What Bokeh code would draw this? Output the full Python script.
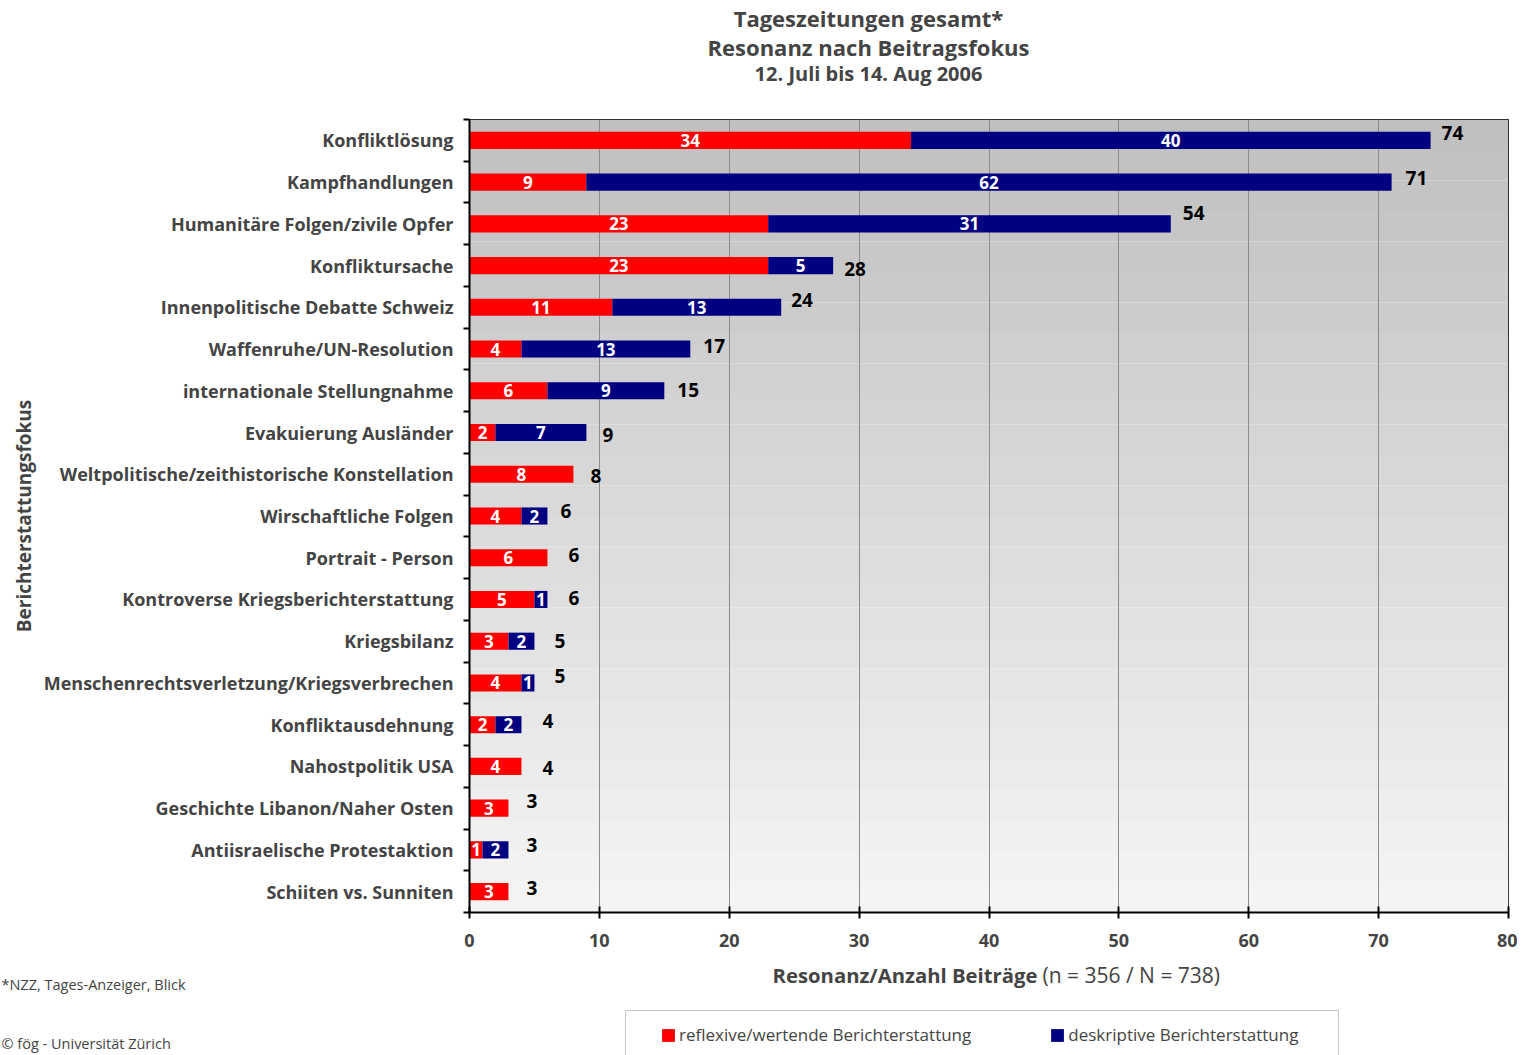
from bokeh.plotting import figure
from bokeh.layouts import column
from bokeh.models import (ColumnDataSource, Range1d, FixedTicker, LinearAxis, Label,
                          Legend, LegendItem, BoxAnnotation, Grid)
from bokeh.core.properties import value
from bokeh.embed import file_html
from bokeh.resources import INLINE

# ---------------- data ----------------
categories = [
    "Konfliktlösung", "Kampfhandlungen", "Humanitäre Folgen/zivile Opfer",
    "Konfliktursache", "Innenpolitische Debatte Schweiz", "Waffenruhe/UN-Resolution",
    "internationale Stellungnahme", "Evakuierung Ausländer",
    "Weltpolitische/zeithistorische Konstellation", "Wirschaftliche Folgen",
    "Portrait - Person", "Kontroverse Kriegsberichterstattung", "Kriegsbilanz",
    "Menschenrechtsverletzung/Kriegsverbrechen", "Konfliktausdehnung",
    "Nahostpolitik USA", "Geschichte Libanon/Naher Osten",
    "Antiisraelische Protestaktion", "Schiiten vs. Sunniten",
]
reflexive = [34, 9, 23, 23, 11, 4, 6, 2, 8, 4, 6, 5, 3, 4, 2, 4, 3, 1, 3]
deskriptive = [40, 62, 31, 5, 13, 13, 9, 7, 0, 2, 0, 1, 2, 1, 2, 0, 0, 2, 0]
x_ticks = [0, 10, 20, 30, 40, 50, 60, 70, 80]
series_names = ["reflexive/wertende Berichterstattung", "deskriptive Berichterstattung"]
title_lines = ["Tageszeitungen gesamt*", "Resonanz nach Beitragsfokus", "12. Juli bis 14. Aug 2006"]
x_title_bold = "Resonanz/Anzahl Beiträge"
x_title_normal = "(n = 356 / N = 738)"
y_title = "Berichterstattungsfokus"
footnote = "*NZZ, Tages-Anzeiger, Blick"
copyright_note = "© fög - Universität Zürich"

# ---------------- styles ----------------
FONT = "Open Sans"
RED = "#FF0000"
NAVY = "#000080"
# small pixel nudges of the total labels (as placed in the original)
total_dx = [11, 14, 12, 11, 10, 13, 13, 16, 17, 13, 21, 21, 20, 20, 21, 21, 18, 18, 18]
total_dy = [-7.5, -4.5, -10.5, 3.5, -7.5, -3, -1, 2.5, 2, -5.5, -2.7, -1.4, 0, -7, -4, 1.6, -7, -5, -3.6]

n = len(categories)
W = 1517
H_TOP = 100
FL, FT, FW, FH, FB = 469, 19, 1039, 793, 50
H_MAIN = FT + FH + FB
H_BOT = 93
XMAX = x_ticks[-1]


def blank(height):
    f = figure(width=W, height=height, x_range=Range1d(0, W), y_range=Range1d(height, 0),
               output_backend="svg", toolbar_location=None, x_axis_type=None, y_axis_type=None,
               min_border_left=0, min_border_right=0, min_border_top=0, min_border_bottom=0,
               frame_align=False)
    f.xgrid.visible = False
    f.ygrid.visible = False
    f.outline_line_color = None
    f.background_fill_color = "white"
    f.border_fill_color = "white"
    return f


# ---------------- titles ----------------
top = blank(H_TOP)
for txt, py, size in zip(title_lines, [17, 46, 73], ["22px", "22px", "20px"]):
    top.add_layout(Label(x=868, y=py, text=txt, text_align="center", text_baseline="middle",
                         text_font=FONT, text_font_style="bold", text_font_size=size))

# ---------------- main chart ----------------
p = figure(width=W, height=H_MAIN, x_range=Range1d(0, XMAX), y_range=Range1d(n - 0.5, -0.5),
           output_backend="svg", toolbar_location=None,
           min_border_left=FL, min_border_top=FT, min_border_right=W - FL - FW,
           min_border_bottom=FB, x_axis_type=None, y_axis_type=None, frame_align=False)
p.xgrid.visible = False
p.ygrid.visible = False
p.outline_line_color = "black"
p.outline_line_width = 1
p.background_fill_color = "white"
p.border_fill_color = "white"

# gradient background (stepped bands)
nb = 26
tops, bottoms, cols = [], [], []
for k in range(nb):
    tops.append(-0.5 + k * n / nb)
    bottoms.append(-0.5 + (k + 1) * n / nb)
    g = int(round(192 + (244 - 192) * k / (nb - 1)))
    cols.append("#%02x%02x%02x" % (g, g, g))
p.quad(left=0, right=XMAX, top=tops, bottom=bottoms, fill_color=cols, line_color=None, level="image")

p.add_layout(Grid(dimension=0, ticker=FixedTicker(ticks=x_ticks[1:-1]),
                  grid_line_color="#8c8c8c", grid_line_width=1))

src = ColumnDataSource(dict(y=list(range(n)), reflexive=reflexive, deskriptive=deskriptive))
bars = p.hbar_stack(["reflexive", "deskriptive"], y="y", height=0.41, source=src,
                    fill_color=[RED, NAVY], line_alpha=0)

# segment labels
sx, sy, st = [], [], []
for i in range(n):
    r, d = reflexive[i], deskriptive[i]
    if r > 0:
        sx.append(r / 2); sy.append(i); st.append(str(r))
    if d > 0:
        sx.append(r + d / 2); sy.append(i); st.append(str(d))
p.text(x=sx, y=sy, text=st, text_color="white", text_font=value(FONT), text_font_style="bold",
       text_font_size="17px", text_align="center", text_baseline="middle")

totals = [r + d for r, d in zip(reflexive, deskriptive)]
p.text(x=totals, y=list(range(n)), text=[str(t) for t in totals], x_offset=total_dx, y_offset=total_dy,
       text_color="black", text_font=value(FONT), text_font_style="bold", text_font_size="19px",
       text_align="left", text_baseline="middle")

# axes
xaxis = LinearAxis(ticker=FixedTicker(ticks=x_ticks), major_tick_in=6, major_tick_out=6,
                   axis_line_width=2, major_tick_line_width=2, minor_tick_line_color=None,
                   major_label_text_font=FONT, major_label_text_font_style="bold",
                   major_label_text_font_size="18px", major_label_standoff=15)
p.add_layout(xaxis, "below")

yaxis = LinearAxis(ticker=FixedTicker(ticks=list(range(n)), minor_ticks=[i - 0.5 for i in range(n + 1)]),
                   major_label_overrides={i: c for i, c in enumerate(categories)},
                   major_tick_line_color=None, major_tick_in=0, major_tick_out=0,
                   minor_tick_in=0, minor_tick_out=6, minor_tick_line_color="black",
                   minor_tick_line_width=2, axis_line_width=2,
                   major_label_text_font=FONT, major_label_text_font_style="bold",
                   major_label_text_font_size="18px", major_label_standoff=10,
                   axis_label=y_title, axis_label_text_font=FONT, axis_label_text_font_style="bold",
                   axis_label_text_font_size="19px", axis_label_standoff=4)
p.add_layout(yaxis, "left")

# ---------------- bottom: axis title, notes, legend ----------------
Y0 = H_TOP + H_MAIN  # page y of the bottom figure's top edge
bot = blank(H_BOT)
bot.add_layout(Label(x=1037, y=974 - Y0, text=x_title_bold, text_align="right", text_baseline="middle",
                     text_font=FONT, text_font_style="bold", text_font_size="20.3px"))
bot.add_layout(Label(x=1042, y=974 - Y0, text=x_title_normal, text_align="left", text_baseline="middle",
                     text_font=FONT, text_font_size="21px"))
bot.add_layout(Label(x=1, y=984 - Y0, text=footnote, text_align="left", text_baseline="middle",
                     text_font=FONT, text_font_size="14.5px"))
bot.add_layout(Label(x=1, y=1043 - Y0, text=copyright_note, text_align="left", text_baseline="middle",
                     text_font=FONT, text_font_size="14.5px"))
bot.add_layout(BoxAnnotation(left=625, right=1338, top=1010 - Y0, bottom=H_BOT + 20,
                             fill_alpha=0, line_color="#444444", line_width=1))
nan = float("nan")
sw_red = bot.quad(left=[nan], right=[nan], top=[nan], bottom=[nan], fill_color=RED, line_alpha=0)
sw_navy = bot.quad(left=[nan], right=[nan], top=[nan], bottom=[nan], fill_color=NAVY, line_alpha=0)
legend = Legend(items=[LegendItem(label=series_names[0], renderers=[sw_red]),
                       LegendItem(label=series_names[1], renderers=[sw_navy])],
                orientation="horizontal", location=(660, H_BOT - (1046 - Y0)), border_line_color=None,
                background_fill_alpha=0, padding=0, margin=0, spacing=78,
                glyph_width=16, glyph_height=16, label_standoff=3,
                label_text_font=FONT, label_text_font_size="17px")
bot.add_layout(legend, "center")

layout = column(top, p, bot, spacing=0)
open("out.html", "w").write(file_html(layout, INLINE))
